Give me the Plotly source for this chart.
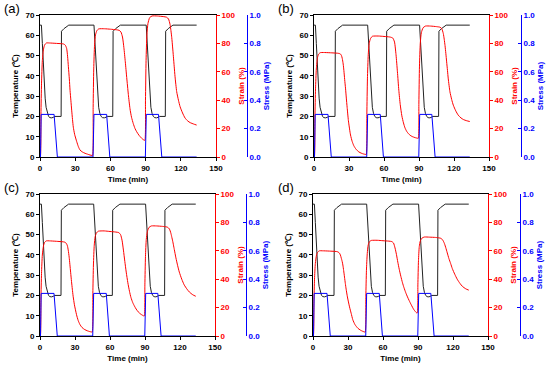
import plotly.graph_objects as go

# ---------------- data ----------------
PANELS = ["(a)", "(b)", "(c)", "(d)"]
X_TICKS = [0, 30, 60, 90, 120, 150]
T_TICKS = [0, 10, 20, 30, 40, 50, 60, 70]
S_TICKS = [0, 20, 40, 60, 80, 100]
P_TICKS = [0.0, 0.2, 0.4, 0.6, 0.8, 1.0]

# temperature programme (same in all four panels)
TEMP_T = [0, 1.2, 2.0, 2.8, 3.6, 4.4, 5.2, 6.2, 7.3, 8.5, 10.0, 11.5, 12.5, 18.0,
          18.3, 20.5, 22.5, 24.5,
          46.0, 46.8, 47.6, 48.4, 49.2, 50.0, 51.0, 52.1, 53.3, 54.8, 56.3, 57.3, 62.0,
          62.3, 64.5, 66.5, 68.5,
          90.5, 91.3, 92.1, 92.9, 93.7, 94.5, 95.5, 96.6, 97.8, 99.3, 100.8, 101.8, 106.8,
          107.1, 109.3, 111.3, 113.3, 133.5]
TEMP_V = [65, 65, 56, 45, 36, 29, 24.5, 21.5, 20, 19.4, 19.3, 19.6, 20, 20,
          62, 63.3, 64.4, 65,
          65, 56, 45, 36, 29, 24.5, 21.5, 20, 19.4, 19.3, 19.6, 20, 20,
          62, 63.3, 64.4, 65,
          65, 56, 45, 36, 29, 24.5, 21.5, 20, 19.4, 19.3, 19.6, 20, 20,
          62, 63.3, 64.4, 65, 65]

# stress programme (same in all four panels)
STRESS_T = [0, 0.4, 1.0, 12.0, 14.8, 45.2, 46.0, 56.8, 59.5, 89.8, 90.6, 101.0, 103.8, 133.5]
STRESS_V = [0, 0, 0.3, 0.3, 0, 0, 0.3, 0.3, 0, 0, 0.3, 0.3, 0, 0]

# strain sampling times (shared) and per-panel strain values
STRAIN_T = [0, 0.3, 0.8, 1.3, 2.0, 3.0, 4.0, 5.5, 8, 14, 20, 21.5, 22.7, 23.5, 24.2, 25.0,
            25.6, 26.3, 27.0, 27.7, 28.4, 29.5, 31.3, 32.7, 34.1, 36.0, 38.4, 40.5, 42.6, 44.3,
            44.8, 45.3, 45.8, 46.5, 47.3, 48.5, 50, 55, 60, 65, 67.5, 69, 70.3, 71.5, 72.7,
            73.9, 75.3, 76.7, 78.0, 79.5, 81.0, 82.4, 84.2, 86.5, 88.8,
            89.4, 89.9, 90.4, 91.1, 92.0, 93.5, 95.5, 100, 105, 108, 109.5, 110.8, 111.6,
            112.3, 113.0, 113.7, 114.4, 115.1, 116.5, 118.0, 119.4, 121.5, 123.6, 126.0,
            128.0, 131.0, 133.5]

STRAIN_A = [0, 0, 30, 52, 68, 76, 79, 80.3, 80.3, 80, 79.6, 78.8, 76.5, 71, 63.6, 55,
            47, 40, 33, 26.5, 21, 16, 10.8, 7.3, 4.9, 3.6, 2.6, 2.0, 1.4, 1.1,
            1.1, 35, 62, 79, 86, 89, 90.2, 90.3, 90, 89.6, 89.2, 88, 84.5, 77, 67,
            56, 44, 34, 28, 23.5, 20, 17.8, 15.5, 13.3, 11.8,
            11.8, 40, 68, 86, 94, 98.2, 99.3, 99.3, 98.9, 98.4, 97.2, 93.5, 89,
            84, 77.5, 70.6, 63.5, 56.5, 46, 40, 35.4, 31, 27.5, 25.3,
            24.2, 23.2, 22.5]
STRAIN_B = [0, 0, 28, 48, 62, 70, 72.5, 73.5, 73.6, 73.4, 73.1, 72.9, 72.5, 71.5, 69.5, 65.5,
            61, 54.5, 48.5, 41.5, 35, 25.5, 15.5, 11, 8, 5.5, 3.6, 2.7, 2.1, 1.8,
            1.8, 30, 55, 72, 80, 83.5, 85, 85.2, 84.9, 84.5, 83.8, 81, 72, 60, 47,
            37, 29, 24, 20.5, 18, 16.4, 15.3, 14.4, 13.7, 13.2,
            13.2, 38, 64, 80, 87.5, 91, 92.2, 92.2, 91.8, 91.4, 90.4, 87, 83,
            78.5, 73, 67, 61, 55, 46, 40.5, 36.5, 32.5, 29.5, 27.5,
            26.4, 25.5, 25]
STRAIN_C = [0, 0, 26, 44, 57, 63.5, 66, 67, 67, 66.7, 66.3, 66, 65, 63.5, 60.5, 55.5,
            50.5, 44.5, 38.5, 33, 28, 22, 15, 11, 8.3, 6, 4.5, 3.7, 3.1, 2.8,
            2.8, 30, 50, 64, 70, 72.7, 73.8, 74, 73.6, 73.2, 72.8, 71.5, 67.5, 60.5, 52.5,
            45, 37.5, 31.5, 27, 23.5, 21, 19, 17, 15.3, 14.2,
            14.1, 36, 56, 68, 73.5, 76.5, 77.5, 77.5, 77.2, 76.9, 76.5, 75.5, 74,
            72, 69.5, 67, 64, 61, 55, 49.5, 45, 40, 36, 33,
            31, 29, 28]
STRAIN_D = [0, 0, 24, 40, 51, 57, 59, 60, 60, 59.8, 59.5, 59.2, 58.3, 57, 55, 52.5,
            50, 46, 41.5, 37, 33, 27.5, 20.5, 16, 11.5, 8, 5.5, 4.2, 3.3, 2.8,
            2.8, 28, 46, 58, 64, 66.5, 67.3, 67.4, 67.1, 66.8, 66.5, 65.5, 62, 57.5, 52,
            47, 42, 37.5, 34, 30.5, 27.5, 25, 22, 18.5, 16.3,
            16.3, 36, 53, 63, 67, 69, 69.7, 69.6, 69.4, 69.1, 68.8, 68, 67,
            65.8, 64.3, 62.5, 60.5, 58.5, 54.5, 51, 47.5, 43.5, 40, 37,
            35, 33.2, 32.3]
STRAINS = [STRAIN_A, STRAIN_B, STRAIN_C, STRAIN_D]

# ---------------- layout geometry (pixels of a 550x365 canvas) ----------------
W, H = 550, 365
BOXES = [  # left, right, top, bottom, blue axis x
    (40, 216, 15, 157, 247),
    (314, 489, 15, 157, 521),
    (40, 215, 194, 336, 246),
    (313, 488, 194, 336, 520),
]
LABEL_POS = [(2, 8), (276, 8), (2, 187), (276, 187)]

FONT = "Liberation Sans, Arial, sans-serif"
RED = "#ff0000"
BLUE = "#0000ff"
BLACK = "#000000"

fig = go.Figure()
layout = dict(width=W, height=H, margin=dict(l=0, r=0, t=0, b=0, autoexpand=False),
              paper_bgcolor="white", plot_bgcolor="white", showlegend=False,
              font=dict(family=FONT, size=8, color=BLACK))

tf = lambda c: dict(family=FONT, size=8, color=c, weight="bold")
annotations = []

for i, (l, r, t, b, bx) in enumerate(BOXES):
    n = i + 1
    xa = "x" if n == 1 else f"x{n}"
    ty, sy, py = 3 * i + 1, 3 * i + 2, 3 * i + 3
    yname = lambda k: "y" if k == 1 else f"y{k}"
    xdom = [l / W, r / W]
    ydom = [1 - b / H, 1 - t / H]

    fig.add_trace(go.Scatter(x=TEMP_T, y=TEMP_V, mode="lines", xaxis=xa, yaxis=yname(ty),
                             line=dict(color="#222222", width=1)))
    fig.add_trace(go.Scatter(x=STRAIN_T, y=STRAINS[i], mode="lines", xaxis=xa, yaxis=yname(sy),
                             line=dict(color=RED, width=1, shape="spline", smoothing=0.6)))
    fig.add_trace(go.Scatter(x=STRESS_T, y=STRESS_V, mode="lines", xaxis=xa, yaxis=yname(py),
                             line=dict(color=BLUE, width=1)))

    xkey = "xaxis" if n == 1 else f"xaxis{n}"
    layout[xkey] = dict(domain=xdom, anchor=yname(ty), range=[0, 150], tickvals=X_TICKS,
                        showline=True, linecolor=BLACK, linewidth=1, mirror=True,
                        ticks="outside", ticklen=3, tickcolor=BLACK, showgrid=False,
                        zeroline=False, tickfont=tf(BLACK), automargin=False,
                        title=dict(text="Time (min)", font=tf(BLACK), standoff=4))
    layout["yaxis" if ty == 1 else f"yaxis{ty}"] = dict(
        domain=ydom, anchor=xa, range=[0, 70], tickvals=T_TICKS, showline=True,
        linecolor=BLACK, linewidth=1, ticks="outside", ticklen=3, tickcolor=BLACK,
        showgrid=False, zeroline=False, tickfont=tf(BLACK), automargin=False,
        title=dict(text="Temperature (℃)", font=tf(BLACK), standoff=5))
    layout[f"yaxis{sy}"] = dict(
        domain=ydom, anchor=xa, overlaying=yname(ty), side="right", range=[0, 100],
        tickvals=S_TICKS, showline=True, linecolor=RED, linewidth=1, ticks="outside",
        ticklen=3, tickcolor=RED, showgrid=False, zeroline=False, tickfont=tf(RED),
        automargin=False, title=dict(text="Strain (%)", font=tf(RED), standoff=3))
    layout[f"yaxis{py}"] = dict(
        domain=ydom, anchor="free", position=bx / W, overlaying=yname(ty), side="right",
        range=[0, 1.0], tickvals=P_TICKS, tickformat=".1f", showline=True, linecolor=BLUE,
        linewidth=1, ticks="inside", ticklen=3, tickcolor=BLUE, showgrid=False,
        zeroline=False, tickfont=tf(BLUE), automargin=False,
        title=dict(text="Stress (MPa)", font=tf(BLUE), standoff=3))

    lx, ly = LABEL_POS[i]
    annotations.append(dict(text=PANELS[i], x=lx / W, y=1 - ly / H, xref="paper", yref="paper",
                            xanchor="left", yanchor="middle", showarrow=False,
                            font=dict(family=FONT, size=13, color=BLACK)))

layout["annotations"] = annotations
fig.update_layout(**layout)
fig.write_html("out.html", config={"displayModeBar": False},
               post_script="document.body.style.margin='0';document.body.style.padding='0';")
